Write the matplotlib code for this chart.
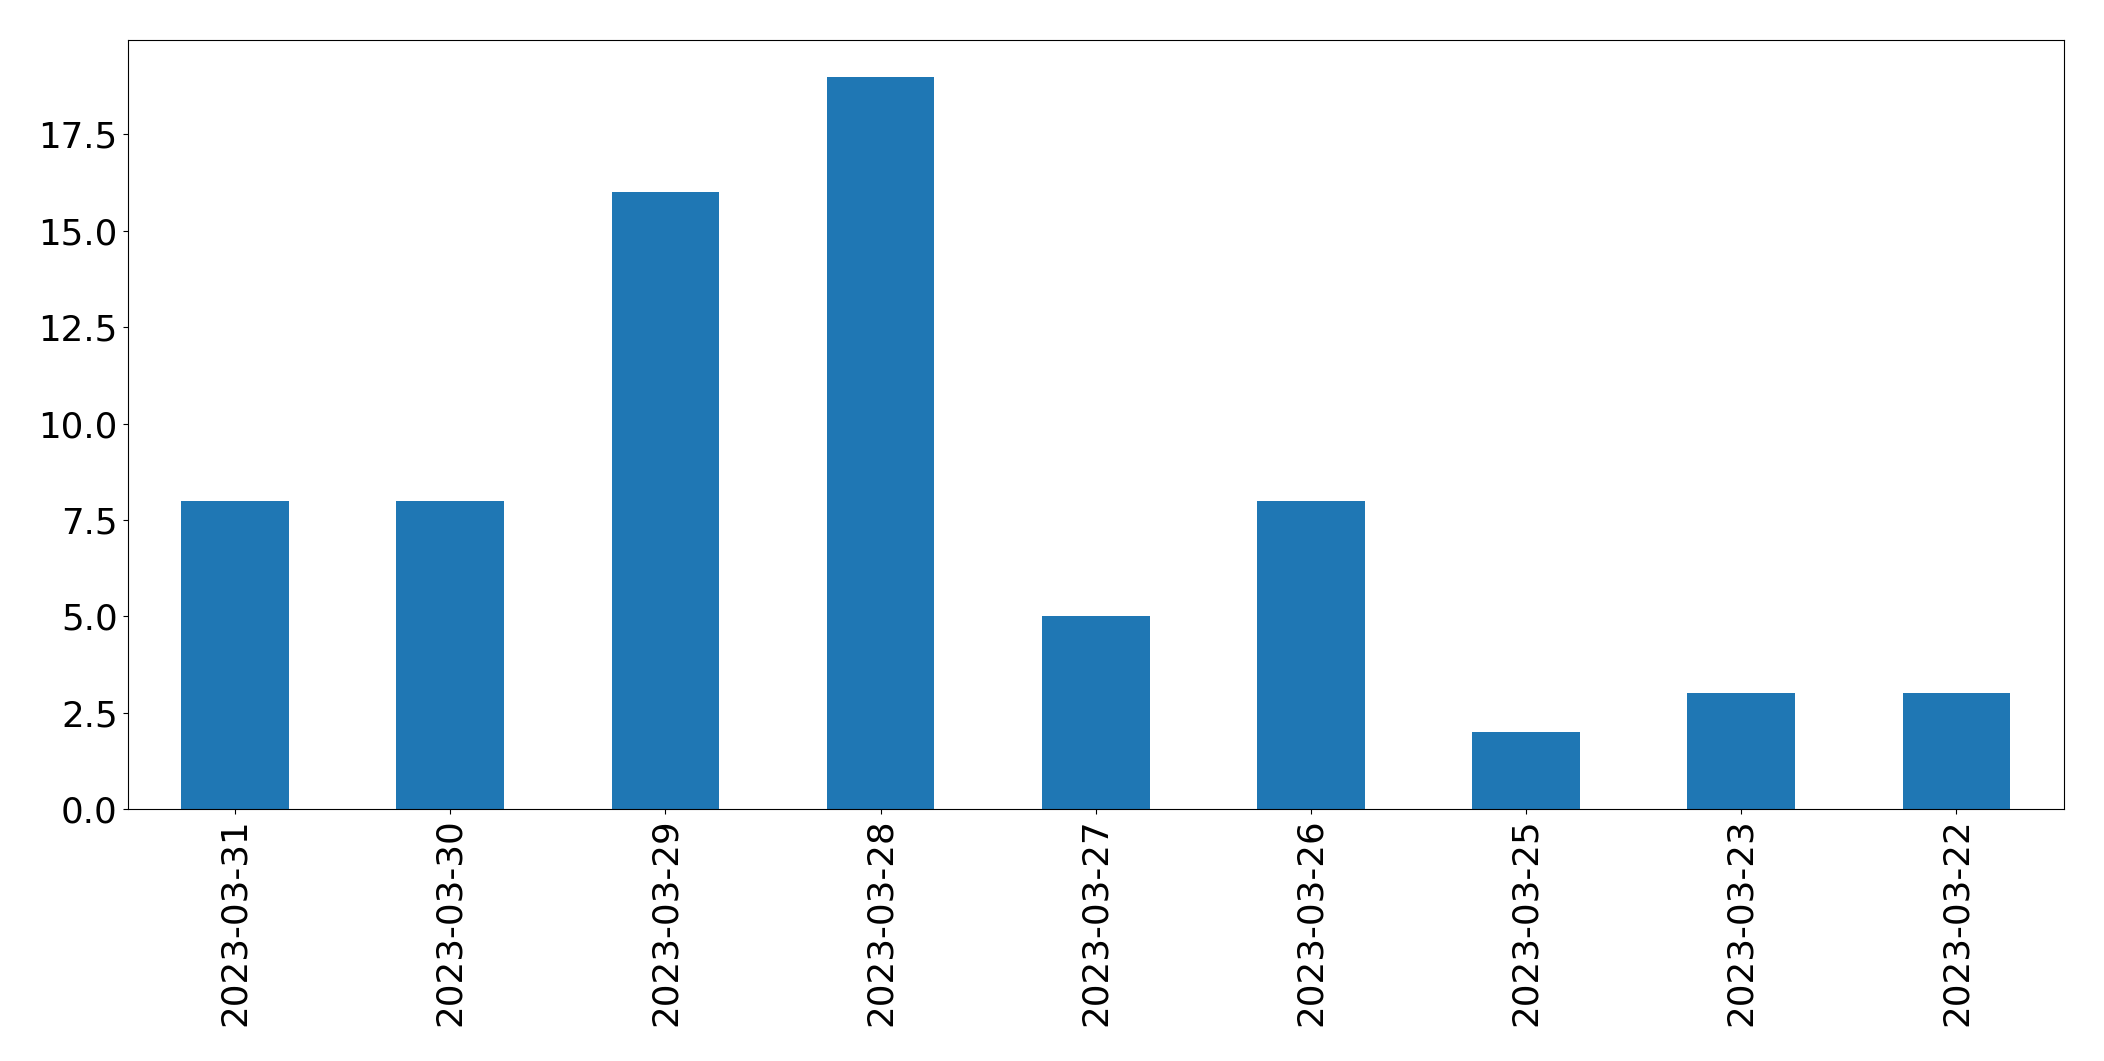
import matplotlib
matplotlib.use("Agg")
import matplotlib.pyplot as plt
import pandas as pd

dates = ["2023-03-31", "2023-03-30", "2023-03-29", "2023-03-28", "2023-03-27",
         "2023-03-26", "2023-03-25", "2023-03-23", "2023-03-22"]
counts = [8, 8, 16, 19, 5, 8, 2, 3, 3]

fig = plt.figure(figsize=(21.04, 10.61), dpi=100)
ax = fig.add_axes([0.0606, 0.2375, 0.9204, 0.7248])
s = pd.Series(counts, index=dates)
s.plot(kind="bar", ax=ax, color="#1f77b4")
ax.tick_params(axis="both", labelsize=25.7)
ax.set_xlabel("")
fig.savefig("out.png", dpi=100)
